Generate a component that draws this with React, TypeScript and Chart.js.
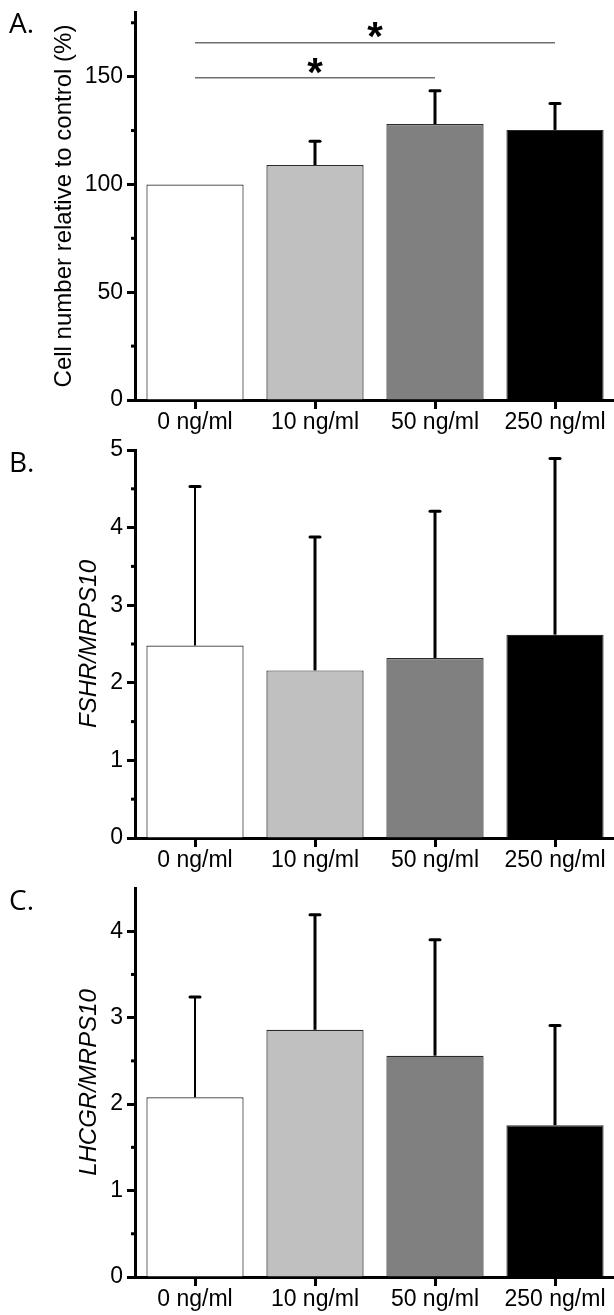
import React, { useEffect, useRef } from "react";
import { Chart, registerables } from "chart.js";

Chart.register(...registerables);

const categories = ["0 ng/ml", "10 ng/ml", "50 ng/ml", "250 ng/ml"];
const barColors = ["#ffffff", "#c0c0c0", "#808080", "#000000"];

// Panel A: cell number relative to control (%)
const cellNumber = [100, 109, 128, 125.3];
const cellNumberErr = [0, 11, 15.5, 12.3];
const cellTicks = [0, 50, 100, 150];
const cellMinorTicks = [25, 75, 125, 175];
const cellMax = 180;
const sigPairs = [
  [0, 3],
  [0, 2],
];
const sigLineLevels = [165.7, 149.5];
const sigStarLevels = [172.7, 156];

// Panel B: FSHR/MRPS10
const fshr = [2.48, 2.16, 2.32, 2.62];
const fshrErr = [2.05, 1.72, 1.89, 2.27];
const fshrTicks = [0, 1, 2, 3, 4, 5];
const fshrMinorTicks = [0.5, 1.5, 2.5, 3.5, 4.5];
const fshrMax = 5;

// Panel C: LHCGR/MRPS10
const lhcgr = [2.08, 2.86, 2.56, 1.755];
const lhcgrErr = [1.16, 1.33, 1.34, 1.155];
const lhcgrTicks = [0, 1, 2, 3, 4];
const lhcgrMinorTicks = [0.5, 1.5, 2.5, 3.5];
const lhcgrMax = 4.5;

const FONT = "'Liberation Sans', Arial, sans-serif";

type PanelProps = {
  values: number[];
  errors: number[];
  yMax: number;
  majors: number[];
  minors: number[];
  title: string;
  italic: boolean;
  titlePad: number;
  top: number;
  height: number;
  sig?: boolean;
};

function Panel(props: PanelProps) {
  const ref = useRef<HTMLCanvasElement | null>(null);
  useEffect(() => {
    const { values, errors, yMax, majors, minors, title, italic, titlePad, sig } = props;
    const overlay = {
      id: "overlay",
      afterDatasetsDraw(chart: any) {
        const ctx = chart.ctx;
        const y = chart.scales.y;
        const x = chart.scales.x;
        const meta = chart.getDatasetMeta(0);
        ctx.save();
        ctx.strokeStyle = "#000";
        meta.data.forEach((bar: any, i: number) => {
          const e = errors[i];
          if (!e) return;
          const cx = bar.x;
          const yTop = y.getPixelForValue(values[i] + e);
          ctx.lineWidth = i === 0 ? 2 : 3;
          ctx.lineCap = "butt";
          ctx.beginPath();
          ctx.moveTo(cx, bar.y);
          ctx.lineTo(cx, yTop);
          ctx.stroke();
          ctx.lineWidth = 3;
          ctx.lineCap = "round";
          ctx.beginPath();
          ctx.moveTo(cx - 5, yTop);
          ctx.lineTo(cx + 5, yTop);
          ctx.stroke();
        });
        const left = chart.chartArea.left;
        ctx.lineWidth = 3;
        ctx.lineCap = "butt";
        minors.forEach((v) => {
          const py = y.getPixelForValue(v);
          ctx.beginPath();
          ctx.moveTo(left - 4, py);
          ctx.lineTo(left, py);
          ctx.stroke();
        });
        if (sig) {
          sigPairs.forEach((pair, k) => {
            const x1 = x.getPixelForValue(pair[0]);
            const x2 = x.getPixelForValue(pair[1]);
            const ly = y.getPixelForValue(sigLineLevels[k]);
            ctx.strokeStyle = "#6e6e6e";
            ctx.lineWidth = 1.5;
            ctx.beginPath();
            ctx.moveTo(x1, ly);
            ctx.lineTo(x2, ly);
            ctx.stroke();
            const sy = y.getPixelForValue(sigStarLevels[k]);
            const size = 40;
            ctx.fillStyle = "#000";
            ctx.font = `bold ${size}px ${FONT}`;
            ctx.textAlign = "center";
            ctx.textBaseline = "alphabetic";
            ctx.fillText("*", (x1 + x2) / 2, sy + 0.555 * size);
          });
        }
        ctx.restore();
      },
    };
    const chart = new Chart(ref.current as HTMLCanvasElement, {
      type: "bar",
      data: {
        labels: categories,
        datasets: [
          {
            data: values,
            backgroundColor: barColors,
            borderColor: "#2a2a2a",
            borderWidth: 1.2,
            barPercentage: 0.81,
            categoryPercentage: 1,
          },
        ],
      },
      options: {
        animation: false,
        responsive: false,
        maintainAspectRatio: false,
        devicePixelRatio: 1,
        layout: { padding: { top: 32, right: 5, left: 0, bottom: 0 } },
        plugins: { legend: { display: false }, tooltip: { enabled: false } },
        scales: {
          x: {
            type: "category",
            offset: true,
            grid: {
              display: true,
              drawOnChartArea: false,
              drawTicks: true,
              tickLength: 9,
              tickWidth: 3,
              tickColor: "#000",
              offset: false,
            },
            border: { display: true, color: "#000", width: 3 },
            ticks: {
              color: "#000",
              font: { family: FONT, size: 23 },
              padding: 0,
              maxRotation: 0,
              autoSkip: false,
            },
            afterFit: (s: any) => {
              s.height = 40;
            },
          },
          y: {
            min: 0,
            max: yMax,
            afterBuildTicks: (s: any) => {
              s.ticks = majors.map((v) => ({ value: v }));
            },
            grid: {
              drawOnChartArea: false,
              tickLength: 8,
              tickWidth: 3,
              tickColor: "#000",
            },
            border: { display: true, color: "#000", width: 3 },
            ticks: { color: "#000", font: { family: FONT, size: 23 }, padding: 4 },
            title: {
              display: true,
              text: title,
              color: "#000",
              font: { family: FONT, size: 24, style: italic ? "italic" : "normal" },
              padding: { top: titlePad, bottom: 0 },
            },
            afterFit: (s: any) => {
              s.width = 135;
            },
          },
        },
      },
      plugins: [overlay],
    } as any);
    return () => chart.destroy();
  }, []);
  return (
    <canvas
      ref={ref}
      width={620}
      height={props.height}
      style={{ position: "absolute", left: 0, top: props.top, width: 620, height: props.height }}
    />
  );
}

const letterStyle: React.CSSProperties = {
  position: "absolute",
  left: 9,
  fontFamily: "'Open Sans', 'Noto Sans', sans-serif",
  fontSize: 28,
  lineHeight: "28px",
  color: "#000",
};

export default function App() {
  return (
    <div
      style={{
        position: "absolute",
        left: 0,
        top: 0,
        width: 614,
        height: 1315,
        overflow: "hidden",
        background: "#fff",
      }}
    >
      <Panel
        values={cellNumber}
        errors={cellNumberErr}
        yMax={cellMax}
        majors={cellTicks}
        minors={cellMinorTicks}
        title="Cell number relative to control (%)"
        italic={false}
        titlePad={50}
        top={-20}
        height={460}
        sig
      />
      <Panel
        values={fshr}
        errors={fshrErr}
        yMax={fshrMax}
        majors={fshrTicks}
        minors={fshrMinorTicks}
        title="FSHR/MRPS10"
        italic={true}
        titlePad={75}
        top={418}
        height={460}
      />
      <Panel
        values={lhcgr}
        errors={lhcgrErr}
        yMax={lhcgrMax}
        majors={lhcgrTicks}
        minors={lhcgrMinorTicks}
        title="LHCGR/MRPS10"
        italic={true}
        titlePad={75}
        top={856}
        height={461}
      />
      <div style={{ ...letterStyle, top: 8 }}>A.</div>
      <div style={{ ...letterStyle, top: 447 }}>B.</div>
      <div style={{ ...letterStyle, top: 885 }}>C.</div>
    </div>
  );
}
